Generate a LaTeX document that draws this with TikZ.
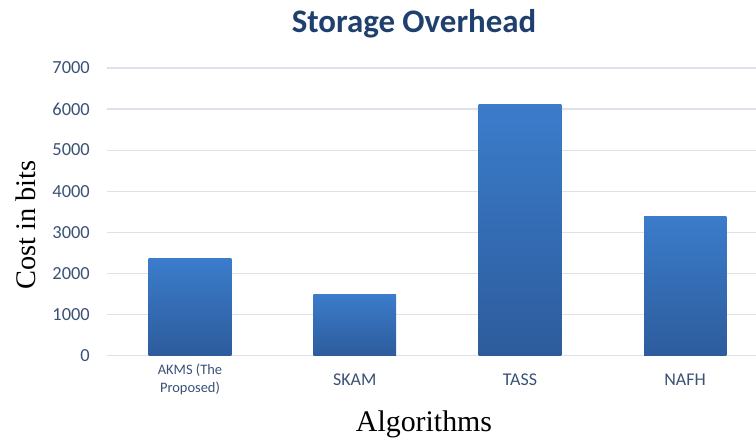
\documentclass[tikz,border=0pt]{standalone}
\usepackage{fontspec}
\setmainfont{Liberation Serif}
\newfontfamily\chartfont{Carlito}
\definecolor{titleblue}{HTML}{1F3F6E}
\definecolor{ticktext}{HTML}{3A5276}
\definecolor{gridgray}{HTML}{DDE2EA}
\definecolor{barTop}{HTML}{3B7CCB}
\definecolor{barBot}{HTML}{2D5C9C}
\begin{document}
\begin{tikzpicture}[x=1bp,y=1bp,
  ticklabel/.style={anchor=east,inner sep=0pt,text=ticktext,font=\chartfont\fontsize{18.5}{20}\selectfont},
  catlabel/.style={inner sep=0pt,text=ticktext,font=\chartfont\fontsize{18}{20}\selectfont,align=center},
  smallcat/.style={inner sep=0pt,text=ticktext,font=\chartfont\fontsize{14.5}{18}\selectfont,align=center},
  axistitle/.style={inner sep=0pt,text=black,font=\fontsize{30}{32}\selectfont},
  gridline/.style={draw=gridgray,line width=1.1bp},
  barfill/.style={top color=barTop,bottom color=barBot}]
\fill[white] (0,0) rectangle (756,441);
\useasboundingbox (0,0) rectangle (756,441);

% title
\node[inner sep=0pt,text=titleblue,font=\chartfont\bfseries\fontsize{33}{36}\selectfont] (title) at (414,417) {Storage Overhead};

% axis titles
\node[axistitle,rotate=90,font=\fontsize{28.5}{30}\selectfont] (ytitle) at (26,216) {Cost in bits};
\node[axistitle] (xtitle) at (424,17) {Algorithms};

% plotting area: one y unit is one bit of cost
\begin{scope}[shift={(0,85.7)},y=0.04104bp]
  \foreach \v in {0,1000,...,7000} {
    \draw[gridline] (107,\v) -- (756,\v);
    \node[ticklabel] (tick\v) at (90,\v) {\v};
  }
  % bars
  \shade[barfill] (148.7,0) rectangle (231.3,2350);
  \shade[barfill] (313.3,0) rectangle (396.0,1490);
  \shade[barfill] (478.7,0) rectangle (561.3,6100);
  \shade[barfill] (644.0,0) rectangle (726.3,3380);
\end{scope}

% category labels
\node[smallcat] (catA) at (190,62) {AKMS (The\\Proposed)};
\node[catlabel] (catB) at (354.7,61) {SKAM};
\node[catlabel] (catC) at (520,61) {TASS};
\node[catlabel] (catD) at (685,61) {NAFH};
\end{tikzpicture}
\end{document}
